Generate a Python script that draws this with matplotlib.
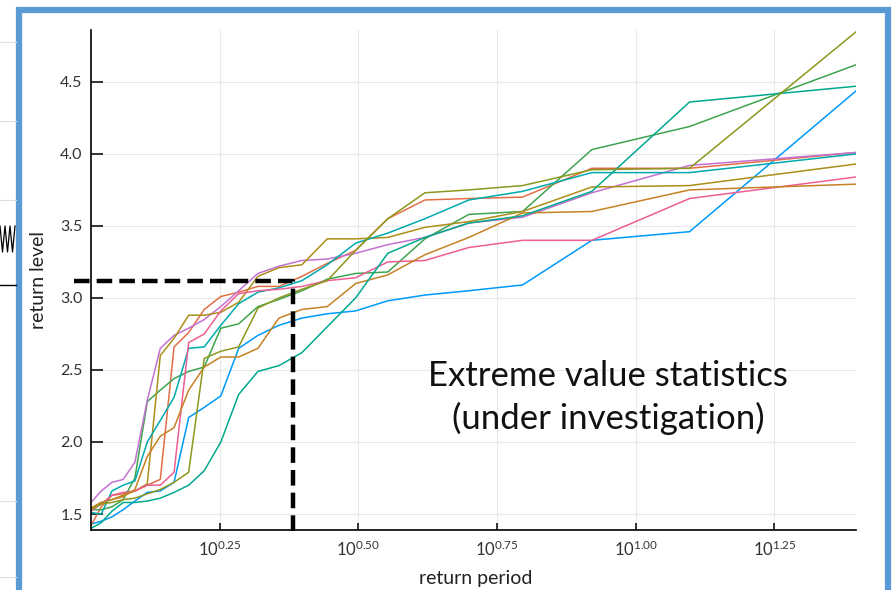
import matplotlib.pyplot as plt
import numpy as np
from matplotlib.lines import Line2D
from matplotlib.patches import Rectangle
from matplotlib.ticker import NullLocator

plt.rcParams['font.family'] = ['Lato', 'DejaVu Sans']
plt.rcParams['mathtext.default'] = 'regular'

# return periods of 24 ranked annual maxima, T = (n+1)/rank
return_period = 25 / np.arange(24, 0, -1)

blue = [1.43, 1.45, 1.48, 1.53, 1.59, 1.65, 1.66, 1.72, 2.17, 2.24, 2.32, 2.65,
        2.74, 2.81, 2.86, 2.89, 2.91, 2.98, 3.02, 3.05, 3.09, 3.40, 3.46, 4.44]
orange_red = [1.42, 1.55, 1.63, 1.64, 1.66, 1.70, 1.74, 2.66, 2.76, 2.92, 3.01, 3.04,
              3.08, 3.08, 3.15, 3.24, 3.33, 3.55, 3.68, 3.69, 3.70, 3.90, 3.90, 4.01]
green = [1.53, 1.53, 1.55, 1.60, 1.75, 2.28, 2.36, 2.44, 2.49, 2.52, 2.79, 2.82,
         2.94, 2.99, 3.05, 3.13, 3.17, 3.18, 3.41, 3.58, 3.60, 4.03, 4.19, 4.62]
purple = [1.58, 1.66, 1.72, 1.74, 1.86, 2.29, 2.65, 2.74, 2.79, 2.85, 2.94, 3.05,
          3.17, 3.22, 3.26, 3.27, 3.31, 3.37, 3.42, 3.52, 3.56, 3.73, 3.92, 4.01]
ochre = [1.54, 1.58, 1.60, 1.63, 1.66, 1.71, 2.60, 2.72, 2.88, 2.88, 2.90, 2.97,
         3.15, 3.21, 3.23, 3.41, 3.41, 3.42, 3.49, 3.53, 3.60, 3.77, 3.78, 3.93]
teal = [1.51, 1.50, 1.66, 1.70, 1.73, 2.00, 2.15, 2.31, 2.65, 2.66, 2.81, 2.96,
        3.04, 3.07, 3.12, 3.23, 3.38, 3.45, 3.55, 3.68, 3.74, 3.87, 3.87, 4.00]
pink = [1.52, 1.57, 1.63, 1.65, 1.66, 1.70, 1.70, 1.79, 2.69, 2.75, 2.91, 3.03,
        3.05, 3.06, 3.08, 3.12, 3.14, 3.25, 3.26, 3.35, 3.40, 3.40, 3.69, 3.84]
brown = [1.54, 1.58, 1.60, 1.62, 1.67, 1.90, 2.04, 2.10, 2.36, 2.52, 2.59, 2.59,
         2.65, 2.86, 2.92, 2.94, 3.10, 3.16, 3.30, 3.42, 3.59, 3.60, 3.75, 3.79]
teal_green = [1.40, 1.44, 1.52, 1.58, 1.58, 1.59, 1.61, 1.65, 1.70, 1.80, 2.00, 2.33,
              2.49, 2.53, 2.62, 2.80, 3.00, 3.31, 3.42, 3.52, 3.57, 3.74, 4.36, 4.47]
olive_green = [1.53, 1.57, 1.58, 1.60, 1.61, 1.64, 1.67, 1.72, 1.79, 2.58, 2.63, 2.66,
               2.93, 3.00, 3.06, 3.12, 3.33, 3.55, 3.73, 3.75, 3.78, 3.89, 3.90, 4.85]

series = [blue, orange_red, green, purple, ochre, teal, pink, brown, teal_green, olive_green]
colors = ['#009AFA', '#E36F47', '#3EA44E', '#C371D2', '#AC8E18',
          '#00AAAE', '#ED5E93', '#C68225', '#00A98D', '#8E971D']

x_exponents = [0.25, 0.50, 0.75, 1.00, 1.25]
y_ticks = [1.5, 2.0, 2.5, 3.0, 3.5, 4.0, 4.5]

# dashed read-off: return period ~2.41 -> level ~3.12
read_period = 2.413
read_level = 3.118

fig = plt.figure(figsize=(8.95, 5.9), dpi=100)
W, H = 895, 590

ax = fig.add_axes([91 / W, 60 / H, 765.5 / W, 500 / H])

for vals, c in zip(series, colors):
    ax.plot(return_period, vals, color=c, lw=1.1)

ax.set_xscale('log')
ax.set_xlim(return_period[0], return_period[-1])
ax.set_ylim(1.389, 4.86)
ax.set_xticks([10 ** e for e in x_exponents])
ax.set_xticklabels([f'$10^{{{e:.2f}}}$' for e in x_exponents])
ax.xaxis.set_minor_locator(NullLocator())
ax.set_yticks(y_ticks)
ax.set_yticklabels([f'{v:.1f}' for v in y_ticks])

ax.grid(color='#e8e8e8', lw=0.8)
ax.set_axisbelow(True)
for s in ['top', 'right']:
    ax.spines[s].set_visible(False)
for s in ['left', 'bottom']:
    ax.spines[s].set_linewidth(1.2)
ax.tick_params(axis='y', direction='in', length=8.5, width=1.1, pad=6,
               labelsize=11.5, labelcolor='#333333')
ax.tick_params(axis='x', direction='in', length=5, width=1.1, pad=7,
               labelsize=12, labelcolor='#333333')

ax.set_xlabel('return period', fontsize=14, color='#222222')
ax.xaxis.set_label_coords(0.502, -0.08)
ax.set_ylabel('return level', fontsize=14, color='#222222')
ax.yaxis.set_label_coords(-0.058, 0.5)

ax.plot([0.97, read_period, read_period], [read_level, read_level, 1.375],
        color='black', lw=3.2, dashes=(3.5, 1.6), clip_on=False,
        solid_joinstyle='miter', dash_capstyle='butt')

fig.text(608 / W, 1 - 376 / H, 'Extreme value statistics', fontsize=25,
         ha='center', va='center', color='#111111')
fig.text(608 / W, 1 - 418 / H, '(under investigation)', fontsize=25,
         ha='center', va='center', color='#111111')

# slide decoration: frame and bits of the neighbouring slide on the left
fig.patches.append(Rectangle((19 / W, -2 / H), 869 / W, 582 / H, fill=False,
                             ec='#5B9BD5', lw=4.5, transform=fig.transFigure))
for yy in [42, 121, 200, 501, 577]:
    fig.add_artist(Line2D([0, 16 / W], [1 - yy / H] * 2, color='#dedede', lw=0.8))
fig.add_artist(Line2D([0, 16 / W], [1 - 285 / H] * 2, color='black', lw=1.0))
zig_x = np.linspace(0, 15, 7) / W
zig_y = 1 - (240 + np.tile([-14, 12], 4)[:7]) / H
fig.add_artist(Line2D(zig_x, zig_y, color='black', lw=0.9))

fig.savefig('out.png', dpi=100)
